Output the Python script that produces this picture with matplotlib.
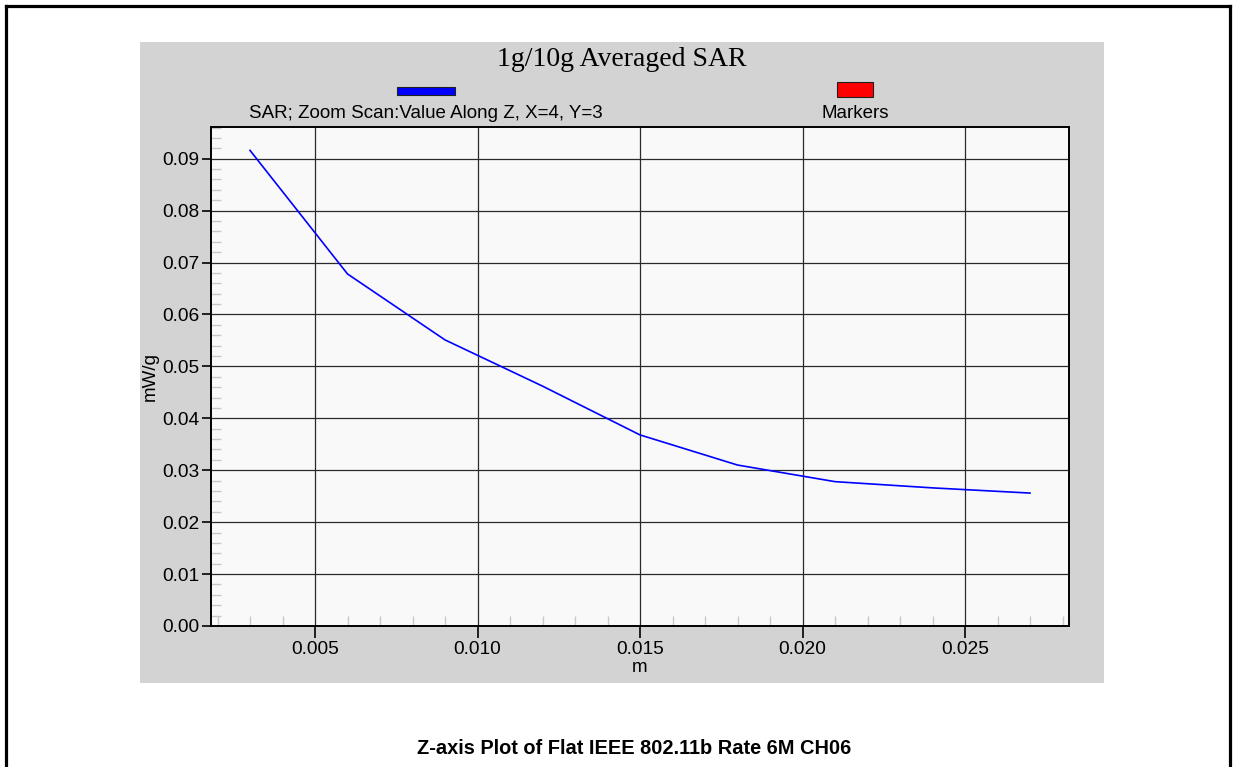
import matplotlib
matplotlib.use("Agg")
import matplotlib.pyplot as plt
import matplotlib.patches as mpatches
import matplotlib.lines as mlines
from matplotlib.ticker import MultipleLocator, FormatStrFormatter

# valeurs
z_m = [0.003, 0.006, 0.009, 0.012, 0.015, 0.018, 0.021, 0.024, 0.027]
sar_mwg = [0.0916, 0.0678, 0.0551, 0.0462, 0.0368, 0.0310, 0.0278, 0.0266, 0.0256]

titre = "1g/10g Averaged SAR"
nom_serie = "SAR; Zoom Scan:Value Along Z, X=4, Y=3"
nom_marqueurs = "Markers"
legende_bas = "Z-axis Plot of Flat IEEE 802.11b Rate 6M CH06"

W, H = 1235, 767
plt.rcParams['font.family'] = ['Liberation Sans', 'DejaVu Sans']

fig = plt.figure(figsize=(W / 100, H / 100), dpi=100)
fig.patch.set_facecolor("white")

def fx(px):
  return px / W

def fy(py):
  return 1 - py / H

# cadre exterieur (pas de bord en bas)
for xs, ys in [((5.5, 5.5), (5.5, H + 5)), ((5.5, 1229.5), (5.5, 5.5)), ((1229.5, 1229.5), (5.5, H + 5))]:
  fig.add_artist(mlines.Line2D([fx(x) for x in xs], [fy(y) for y in ys], color="black", lw=2.3,
                               transform=fig.transFigure))

# panneau gris
fig.add_artist(mpatches.Rectangle((fx(140), fy(683)), fx(1104) - fx(140), fy(42) - fy(683),
                                  facecolor="#d3d3d3", edgecolor="none", transform=fig.transFigure, zorder=0))

ax = fig.add_axes([fx(211), fy(626), fx(1069) - fx(211), fy(127) - fy(626)])
ax.set_facecolor("#f9f9f9")
ax.plot(z_m, sar_mwg, color="#0000ff", lw=1.2, zorder=3)

ax.set_xlim(0.0018, 0.0282)
ax.set_ylim(0.0, 0.0961)
ax.xaxis.set_major_locator(MultipleLocator(0.005))
ax.xaxis.set_minor_locator(MultipleLocator(0.001))
ax.yaxis.set_major_locator(MultipleLocator(0.01))
ax.yaxis.set_minor_locator(MultipleLocator(0.002))
ax.xaxis.set_major_formatter(FormatStrFormatter("%.3f"))
ax.yaxis.set_major_formatter(FormatStrFormatter("%.2f"))

ax.grid(True, which="major", color="#2a2a2a", lw=0.9, zorder=1)
ax.set_axisbelow(True)
ax.tick_params(axis="x", which="major", direction="out", length=8.5, width=1.2, color="black",
               labelsize=13.8, pad=2)
ax.tick_params(axis="y", which="major", direction="out", length=6.5, width=1.2, color="black",
               labelsize=13.8, pad=2)
ax.tick_params(which="minor", direction="in", length=7, width=1, color="#c8c8c8")
for s in ax.spines.values():
  s.set_linewidth(1.4)
  s.set_color("black")

ax.set_xlabel("m", fontsize=13.5, labelpad=1)
ax.set_ylabel("mW/g", fontsize=13.5, labelpad=2)

# titre et legende
fig.text(fx(622), fy(59), titre, ha="center", va="center", fontsize=20, family="Liberation Serif")
fig.add_artist(mpatches.Rectangle((fx(397), fy(95)), fx(455) - fx(397), fy(87) - fy(95),
                                  facecolor="#0000ff", edgecolor="#202020", lw=0.8, transform=fig.transFigure))
fig.add_artist(mpatches.Rectangle((fx(837), fy(97)), fx(873) - fx(837), fy(82) - fy(97),
                                  facecolor="#ff0000", edgecolor="#202020", lw=0.8, transform=fig.transFigure))
fig.text(fx(426), fy(114), nom_serie, ha="center", va="center", fontsize=13.5)
fig.text(fx(855), fy(114), nom_marqueurs, ha="center", va="center", fontsize=13.5)

fig.text(fx(634), fy(748), legende_bas, ha="center", va="center", fontsize=14.4, fontweight="bold")

fig.savefig("out.png", dpi=100)
